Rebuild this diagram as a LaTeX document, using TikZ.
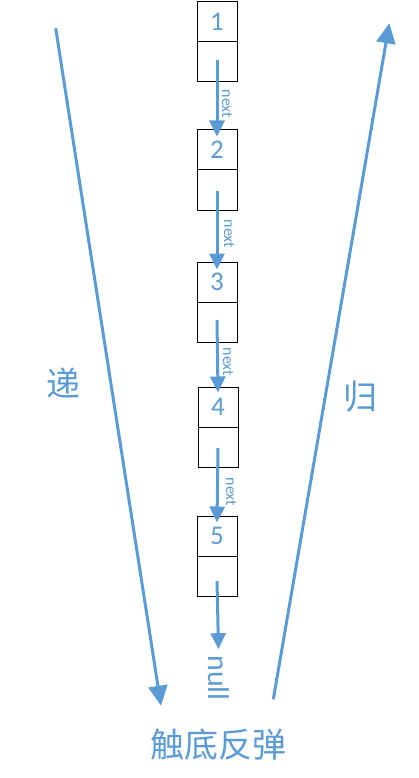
\documentclass[tikz,border=0pt]{standalone}
\usepackage{fontspec}
\setmainfont{Carlito}
\newfontfamily\cjk{Noto Sans CJK SC}
\usetikzlibrary{arrows.meta}
\definecolor{lblue}{HTML}{5B9BD5}
\tikzset{
  cell/.style={draw=black, line width=1pt, minimum width=40pt, minimum height=40pt, inner sep=0pt, text=lblue, font=\fontsize{27}{27}\selectfont},
  link/.style={draw=lblue, line width=3pt, -{Triangle[length=16pt,width=15pt]}},
  bigarrow/.style={draw=lblue, line width=3pt, -{Triangle[length=20pt,width=19pt]}},
  nextlbl/.style={text=lblue, rotate=-90, inner sep=0pt, font=\fontsize{16}{16}\selectfont},
  cjklbl/.style={text=lblue, inner sep=0pt, font=\cjk\fontsize{34}{34}\selectfont}
}
\begin{document}
\begin{tikzpicture}[x=1pt,y=-1pt]
\useasboundingbox (0,0) rectangle (418,778);
% boxes
\node[cell] (n1) at (217,22) {1};
\node[cell] (n1b) at (217,62) {};
\node[cell] (n2) at (217,150) {2};
\node[cell] (n2b) at (217,190) {};
\node[cell] (n3) at (217,282) {3};
\node[cell] (n3b) at (217,322) {};
\node[cell] (n4) at (218,407) {4};
\node[cell] (n4b) at (218,447) {};
\node[cell] (n5) at (217,536) {5};
\node[cell] (n5b) at (217,576) {};
% links
\draw[link] ([yshift=2pt]n1b.center) -- ([yshift=-7pt]n2.north);
\draw[link] ([yshift=-1pt]n2b.center) -- ([yshift=-8pt]n3.north);
\draw[link] ([yshift=2pt]n3b.center) -- ([yshift=-6pt]n4.north);
\draw[link] ([yshift=-1pt]n4b.center) -- ([yshift=-7pt]n5.north);
\node[nextlbl] (l1) at (227,104) {next};
\node[nextlbl] (l2) at (229,234) {next};
\node[nextlbl] (l3) at (228,362) {next};
\node[nextlbl] (l4) at (231,492) {next};
\node[text=lblue, rotate=-90, inner sep=0pt, font=\fontsize{30}{30}\selectfont] (null) at (218.5,678) {null};
\draw[link] ([yshift=-5pt]n5b.center) -- ([yshift=6pt]null.west);
% big arrows
\coordinate (ls) at (55.7,28.3);
\coordinate (le) at (161,705.7);
\coordinate (rs) at (273.3,699.3);
\coordinate (re) at (389.3,23.3);
\draw[bigarrow] (ls) -- (le);
\draw[bigarrow] (rs) -- (re);
% labels
\node[cjklbl] (di) at (63,383) {递};
\node[cjklbl] (gui) at (360,397) {归};
\node[cjklbl] (bottom) at (218,745) {触底反弹};
\end{tikzpicture}
\end{document}
